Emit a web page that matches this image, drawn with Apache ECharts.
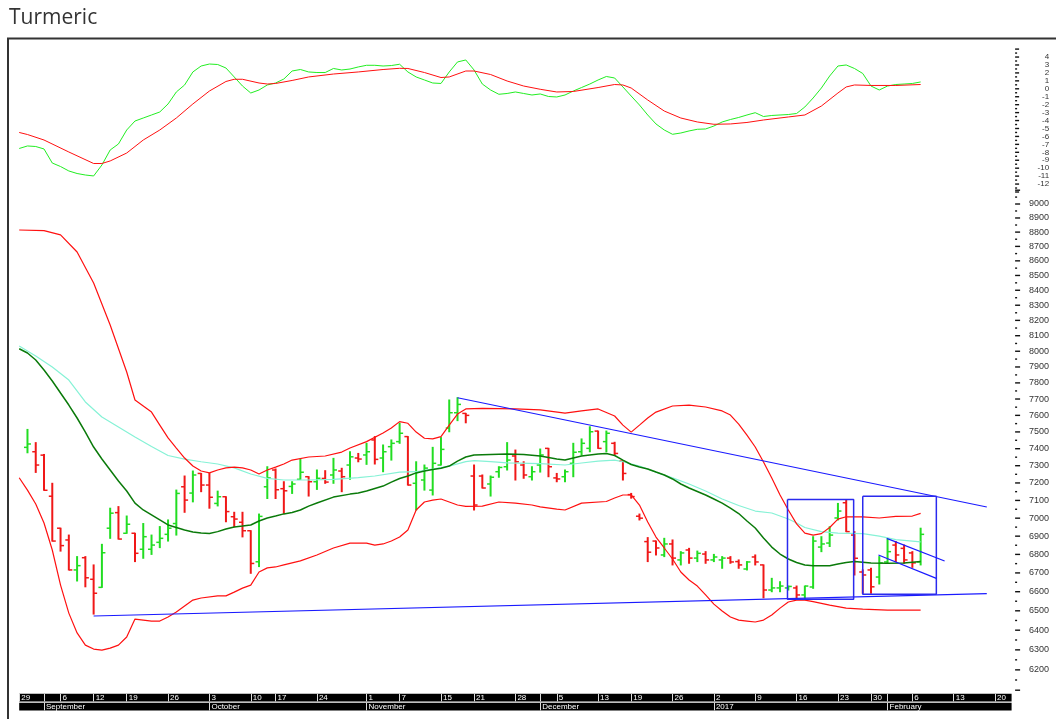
<!DOCTYPE html>
<html>
<head>
<meta charset="utf-8">
<title>Turmeric</title>
<script src="https://cdn.jsdelivr.net/npm/echarts/dist/echarts.min.js"></script>
<style>
  * { padding: 0; margin: 0; }
  body { background: #fff; }
  #chart { width: 1056px; height: 719px; }
</style>
</head>
<body>
<div id="chart"></div>
<script>
// trading days shown on the axis (Aug 2016 - Feb 2017)
const dates = [
  "08-29","08-30","08-31",
  "09-01","09-02","09-06","09-07","09-08","09-09","09-12","09-14","09-15","09-16","09-19","09-20","09-21","09-22","09-23","09-26","09-27","09-28","09-29","09-30",
  "10-03","10-04","10-05","10-06","10-07","10-10","10-13","10-14","10-17","10-18","10-19","10-20","10-21","10-24","10-25","10-26","10-27","10-28","10-31",
  "11-01","11-02","11-03","11-04","11-07","11-08","11-09","11-10","11-11","11-15","11-16","11-17","11-18","11-21","11-22","11-23","11-24","11-25","11-28","11-29","11-30",
  "12-01","12-02","12-05","12-06","12-07","12-08","12-09","12-13","12-14","12-15","12-16","12-19","12-20","12-21","12-22","12-23","12-26","12-27","12-28","12-29","12-30",
  "01-02","01-03","01-04","01-05","01-06","01-09","01-10","01-11","01-12","01-13","01-16","01-17","01-18","01-19","01-20","01-23","01-24","01-25","01-27","01-30","01-31",
  "02-01","02-02","02-03","02-06","02-07","02-08","02-09","02-10","02-13","02-14","02-15","02-16","02-17","02-20","02-21","02-22"
];
const weekStarts = [0, 5, 9, 13, 18, 23, 28, 31, 36, 42, 46, 51, 55, 60, 65, 70, 74, 79, 84, 89, 94, 99, 103, 108, 113, 118];
const monthStarts = [3, 23, 42, 63, 84, 105];
const monthNames = ["September", "October", "November", "December", "2017", "February"];

// daily OHLC (first day not drawn)
const open = [null,
  7408,7382,7362,7124,6944,6879,6716,6782,6666,6623, 6944,7031,6916,6916,6828,6828,6866,6910,6970,7178,
  7142,7255,7188,7083,7121,7008,6977,6930,6760,7178, 7275,7167,7180,7221,7236,7207,7226,7246,7269,7304,
  7345,7363,7452,7345,7412,7442,7472,7198,7217,7159, 7304,7523,7616,7612,7240,7240,7194,7265,7294,7357,
  7304,7236,7304,7402,7229,7236,7314,7382,7402,7505, 7442,7432,7327,7133,7011,6870,6873,6797,6857,6770,
  6824,6780,6802,6770,6770,6780,6761,6721,6786,6743, 6609,6620,6620,6620,6583,6625,6840,6862,7001,7087,
  6906,6705,6716,6678,6759,6851,6833,6808,6759];
const high = [null,
  7515,7436,7366,7198,6944,6906,6788,6788,6743,6855, 7056,7065,7012,6916,6970,6906,6953,6990,7159,7240,
  7269,7255,7255,7153,7121,7033,7033,6930,7023,7294, 7281,7207,7207,7337,7236,7275,7271,7343,7285,7382,
  7372,7432,7472,7422,7452,7552,7472,7323,7304,7408, 7466,7694,7708,7612,7304,7246,7240,7294,7436,7392,
  7323,7294,7398,7402,7255,7275,7432,7458,7531,7505, 7505,7438,7327,7140,7023,6892,6873,6888,6879,6815,
  6833,6818,6815,6800,6788,6788,6770,6761,6797,6743, 6671,6653,6630,6630,6630,6897,6897,6952,7083,7102,
  6925,6716,6725,6788,6884,6870,6851,6815,6944];
const low = [null,
  7376,7261,7158,6873,6818,6716,6657,6626,6483,6623, 6888,6884,6916,6761,6779,6800,6837,6873,6906,7033,
  7092,7150,7056,7069,6980,6952,6896,6698,6734,7111, 7111,7027,7140,7221,7125,7163,7198,7198,7150,7221,
  7323,7308,7310,7265,7333,7432,7188,7046,7159,7131, 7304,7501,7568,7555,7046,7171,7125,7233,7275,7217,
  7227,7217,7263,7236,7207,7207,7236,7363,7382,7402, 7382,7366,7217,7113,6990,6761,6797,6788,6743,6743,
  6752,6761,6752,6761,6725,6752,6725,6716,6743,6568, 6600,6600,6609,6565,6565,6618,6815,6843,6990,6925,
  6689,6592,6592,6641,6752,6761,6752,6730,6743];
const close = [null,
  7428,7304,7158,6873,6848,6716,6739,6674,6592,6809, 7028,6884,6966,6806,6897,6851,6888,6944,7140,7102,
  7246,7188,7118,7121,7037,6995,6930,6751,7010,7229, 7161,7155,7194,7262,7207,7227,7205,7275,7236,7352,
  7339,7382,7337,7382,7432,7492,7188,7265,7286,7314, 7396,7616,7667,7600,7074,7171,7233,7290,7333,7323,
  7246,7265,7363,7294,7223,7265,7379,7432,7501,7402, 7492,7372,7255,7122,7000,6812,6835,6857,6780,6808,
  6780,6806,6770,6786,6780,6759,6743,6759,6759,6609, 6620,6630,6628,6583,6630,6873,6857,6906,7040,6925,
  6779,6689,6626,6754,6815,6797,6770,6754,6910];

// bollinger bands and averages, [day index, price]
const upperBand = [[0,8815],[3,8810],[5,8780],[7,8661],[9,8449],[11,8170],[13,7868],[14,7694],[15,7657],[16,7620],
  [17,7541],[18,7464],[19,7404],[20,7345],[21,7298],[22,7269],[23,7258],[24,7275],[25,7287],[26,7292],[27,7287],
  [28,7275],[29,7252],[30,7275],[31,7292],[32,7310],[33,7333],[35,7351],[37,7357],[39,7380],[40,7404],[42,7442],
  [44,7493],[45,7523],[46,7562],[47,7552],[48,7499],[49,7462],[50,7458],[51,7472],[52,7541],[53,7608],[54,7639],
  [56,7643],[60,7639],[63,7633],[66,7614],[68,7627],[70,7639],[72,7596],[73,7541],[74,7499],[75,7541],[76,7584],
  [77,7620],[79,7657],[81,7663],[83,7651],[85,7627],[86,7602],[87,7547],[88,7481],[89,7410],[90,7322],[91,7229],
  [92,7131],[93,7046],[94,6968],[95,6917],[96,6906],[97,6914],[98,6948],[99,6995],[100,7008],[102,7007],[104,7001],
  [106,7010],[108,7012],[109,7027]];
const lowerBand = [[0,7230],[1,7159],[2,7080],[3,6973],[4,6824],[5,6635],[6,6488],[7,6386],[8,6324],[9,6304],
  [10,6299],[11,6309],[12,6324],[13,6365],[14,6457],[15,6452],[16,6447],[17,6447],[18,6468],[19,6494],[20,6525],
  [21,6556],[22,6567],[24,6578],[25,6578],[26,6598],[27,6619],[28,6635],[29,6705],[30,6727],[31,6732],[32,6743],
  [34,6765],[36,6797],[38,6835],[40,6862],[42,6862],[43,6851],[44,6857],[45,6873],[46,6895],[47,6934],[48,7046],
  [49,7091],[50,7102],[51,7108],[52,7091],[53,7074],[54,7066],[56,7068],[58,7091],[60,7085],[62,7074],[63,7064],
  [65,7051],[66,7046],[68,7085],[71,7094],[72,7114],[73,7131],[74,7131],[75,7074],[76,6979],[77,6895],[78,6835],
  [79,6775],[80,6705],[81,6662],[82,6630],[83,6583],[84,6535],[85,6499],[86,6468],[87,6452],[88,6447],[89,6442],
  [90,6452],[91,6478],[92,6514],[93,6546],[94,6556],[95,6556],[96,6548],[98,6530],[100,6514],[102,6509],[105,6504],
  [109,6504]];
const midAvg = [[0,8016],[1,7989],[2,7944],[3,7881],[4,7812],[5,7737],[6,7663],[7,7584],[8,7499],[9,7410],[10,7339],
  [11,7275],[12,7211],[13,7154],[14,7085],[15,7046],[16,7018],[17,6990],[18,6962],[19,6948],[20,6934],[21,6923],
  [22,6917],[23,6915],[24,6925],[25,6940],[26,6951],[27,6956],[28,6962],[29,6984],[30,7001],[31,7012],[32,7024],
  [33,7032],[34,7046],[35,7068],[36,7085],[38,7119],[40,7136],[41,7142],[42,7154],[43,7168],[44,7182],[45,7205],
  [46,7226],[47,7240],[48,7258],[49,7269],[50,7278],[51,7285],[52,7298],[53,7327],[54,7351],[55,7363],[57,7366],
  [59,7368],[61,7366],[63,7357],[64,7348],[65,7339],[66,7333],[67,7345],[68,7357],[70,7368],[71,7372],[72,7360],
  [73,7333],[74,7307],[75,7292],[76,7281],[77,7263],[78,7246],[79,7223],[80,7194],[81,7171],[82,7151],[83,7131],
  [84,7108],[85,7085],[86,7057],[87,7026],[88,6984],[89,6945],[90,6890],[91,6840],[92,6802],[93,6775],[94,6756],
  [95,6743],[96,6738],[98,6738],[99,6748],[100,6756],[101,6761],[103,6754],[105,6752],[107,6754],[109,6761]];
const longAvg = [[0,8034],[2,7970],[4,7900],[6,7818],[8,7682],[10,7590],[12,7529],[14,7469],[16,7413],[18,7360],
  [20,7339],[22,7323],[24,7310],[26,7287],[28,7252],[30,7226],[32,7217],[35,7217],[38,7221],[41,7231],[43,7240],
  [46,7263],[48,7265],[50,7281],[52,7298],[54,7324],[55,7330],[57,7324],[59,7317],[63,7312],[66,7304],[68,7316],
  [70,7327],[72,7333],[73,7323],[75,7298],[77,7263],[79,7229],[81,7194],[83,7154],[85,7108],[87,7071],[89,7040],
  [91,7029],[93,6995],[94,6973],[95,6948],[97,6925],[99,6917],[102,6914],[104,6900],[106,6881],[109,6868]];

// oscillator panel, [day index, value]
const oscFast = [[0,-7.52],[1,-7.2],[2,-7.27],[3,-7.58],[4,-9.35],[5,-9.79],[6,-10.35],[7,-10.67],[8,-10.86],[9,-10.98],
  [10,-9.6],[11,-7.71],[12,-6.95],[13,-5.19],[14,-4.06],[15,-3.68],[16,-3.3],[17,-2.92],[18,-1.91],[19,-0.4],[20,0.48],
  [21,2.12],[22,2.87],[23,3.12],[24,3.06],[25,2.62],[26,1.49],[27,0.35],[28,-0.53],[29,-0.15],[30,0.48],[31,0.73],
  [32,1.23],[33,2.24],[34,2.43],[35,2.12],[36,2.05],[37,2.05],[38,2.56],[39,2.37],[40,2.49],[41,2.75],[42,2.96],
  [43,2.96],[44,2.87],[45,2.93],[46,3.09],[47,2.12],[48,1.49],[49,1.11],[50,0.73],[51,0.67],[52,2.12],[53,3.38],
  [54,3.63],[55,2.37],[56,0.6],[57,-0.15],[58,-0.69],[59,-0.59],[60,-0.4],[61,-0.59],[62,-0.78],[63,-0.65],[64,-0.97],
  [65,-1.03],[66,-0.78],[67,-0.28],[68,0.16],[69,0.6],[70,1.11],[71,1.55],[72,1.36],[73,0.23],[74,-0.91],[75,-2.04],
  [76,-3.3],[77,-4.43],[78,-5.19],[79,-5.73],[80,-5.57],[81,-5.31],[82,-5.1],[83,-5.06],[84,-4.69],[85,-4.18],
  [86,-3.87],[87,-3.61],[88,-3.3],[89,-3.01],[90,-3.49],[91,-3.36],[92,-3.3],[93,-3.24],[94,-3.11],[95,-2.29],
  [96,-1.16],[97,0.1],[98,1.61],[99,2.87],[100,3.0],[101,2.56],[102,1.93],[103,0.35],[104,-0.15],[105,0.35],
  [106,0.54],[107,0.6],[108,0.67],[109,0.86]];
const oscSlow = [[0,-5.5],[1,-5.76],[3,-6.45],[6,-7.96],[9,-9.41],[10,-9.41],[11,-9.09],[13,-8.09],[15,-6.45],
  [17,-5.19],[19,-3.68],[21,-1.91],[23,-0.28],[25,0.92],[26,1.2],[27,1.2],[29,0.73],[30,0.6],[31,0.67],[33,1.05],
  [35,1.49],[38,1.86],[41,2.12],[44,2.43],[46,2.58],[47,2.56],[49,2.05],[51,1.42],[52,1.49],[54,2.24],[55,2.24],
  [57,1.8],[59,0.98],[61,0.35],[63,-0.06],[65,-0.4],[67,-0.34],[70,0.16],[72,0.54],[73,0.48],[74,0.1],[76,-1.41],
  [78,-2.8],[80,-3.68],[82,-4.18],[84,-4.47],[86,-4.43],[88,-4.24],[90,-3.93],[93,-3.55],[95,-3.3],[97,-2.17],
  [99,-0.53],[100,0.23],[101,0.48],[103,0.42],[106,0.42],[109,0.54]];

// drawn trend lines and boxes
const supportLine = [[9, 6473], [117, 6590]];
const resistLine = [[53, 7708], [117, 7063]];
const boxA = [92.9, 100.9, 7105, 6560];
const boxB = [102, 110.9, 7124, 6586];
const channelTop = [[104.9, 6888], [111.9, 6764]];
const channelBottom = [[103.9, 6797], [110.9, 6671]];

// axis ticks
const priceMajor = [];
for (let p = 6100; p <= 9100; p += 100) priceMajor.push(p);
const priceLabels = priceMajor.filter(p => p >= 6200 && p <= 9000);
const priceMinor = priceMajor.slice(0, -1).map(p => p + 50);
const oscMajor = [];
for (let v = -13; v <= 5; v++) oscMajor.push(v);
const oscLabels = oscMajor.filter(v => v >= -12 && v <= 4);
const oscMinor = oscMajor.slice(0, -1).map(v => v + 0.5);

const GREEN = "#22dd22";
const RED = "#f01818";
const LAST = dates.length - 1;

function boxPath(b) {
  return [[b[0], b[2]], [b[1], b[2]], [b[1], b[3]], [b[0], b[3]], [b[0], b[2]]];
}

const ohlc = [];
dates.forEach((d, i) => {
  if (open[i] != null) ohlc.push([i, open[i], high[i], low[i], close[i]]);
});

const chart = echarts.init(document.getElementById("chart"));

const gridL = 19.2, gridW = 992.4;
const valueX = (gi) => ({ type: "value", gridIndex: gi, min: 0, max: LAST, show: false });
const hiddenY = (gi) => ({ type: "value", gridIndex: gi, min: 0, max: 1, show: false });
// right side labels (ticks are drawn by tickSeries)
const labelAxis = (gi, type, min, max, labels, size) => ({
  type: type, gridIndex: gi, min: min, max: max, position: "right",
  axisLine: { show: false }, splitLine: { show: false }, axisTick: { show: false },
  axisLabel: {
    customValues: labels, fontSize: size, color: "#333", fontFamily: "Liberation Sans",
    align: "right", margin: 37.5, showMinLabel: true, showMaxLabel: true, hideOverlap: false,
    formatter: (v) => String(v)
  }
});
// short marks just right of the plot, placed by the axis scale
const tickSeries = (yi, values, len) => ({
  type: "custom", xAxisIndex: yi, yAxisIndex: yi, silent: true, clip: false,
  data: values.map(v => [LAST, v]), encode: { x: 0, y: 1 },
  renderItem: function (params, api) {
    const p = api.coord([api.value(0), api.value(1)]);
    return {
      type: "line",
      shape: { x1: p[0] + 3.5, y1: p[1], x2: p[0] + 3.5 + len, y2: p[1] },
      style: { stroke: "#111", lineWidth: 1.4 }
    };
  }
});

const dayAxis = {
  type: "category", gridIndex: 2, data: dates, boundaryGap: false,
  axisLine: { show: false }, axisTick: { show: false },
  splitLine: {
    show: true,
    interval: (i) => weekStarts.includes(i) || monthStarts.includes(i),
    lineStyle: { color: "#ddd", width: 1 }
  },
  axisLabel: {
    inside: true, margin: 3.8, verticalAlign: "middle", align: "left", padding: [0, 0, 0, 2],
    interval: (i) => weekStarts.includes(i),
    formatter: (v) => String(parseInt(v.slice(3), 10)),
    color: "#fff", fontSize: 8, fontFamily: "Liberation Sans"
  }
};
const monthAxis = {
  type: "category", gridIndex: 3, data: dates, boundaryGap: false,
  axisLine: { show: false }, axisTick: { show: false },
  splitLine: {
    show: true,
    interval: (i) => monthStarts.includes(i),
    lineStyle: { color: "#ddd", width: 1 }
  },
  axisLabel: {
    inside: true, margin: 3.8, verticalAlign: "middle", align: "left", padding: [0, 0, 0, 2],
    interval: (i) => monthStarts.includes(i),
    formatter: (v, i) => monthNames[monthStarts.indexOf(i)] || "",
    color: "#fff", fontSize: 8, fontFamily: "Liberation Sans"
  }
};

const line = (name, data, xi, yi, color, width) => ({
  name: name, type: "line", data: data, xAxisIndex: xi, yAxisIndex: yi,
  showSymbol: false, symbol: "none", silent: true,
  lineStyle: { color: color, width: width }
});

chart.setOption({
  animation: false,
  backgroundColor: "#fff",
  title: {
    text: "Turmeric", left: 4, top: 3,
    textStyle: { fontFamily: "Open Sans", fontSize: 21, fontWeight: "normal", color: "#333" }
  },
  graphic: [{
    type: "rect", shape: { x: 8, y: 38.5, width: 1200, height: 800 },
    style: { fill: "none", stroke: "#333", lineWidth: 2 }, silent: true
  }],
  grid: [
    { left: gridL, width: gridW, top: 49.1, height: 142.9, outerBoundsMode: "none" },
    { left: gridL, width: gridW, top: 190.2, height: 500, outerBoundsMode: "none" },
    { left: gridL, width: gridW, top: 693.8, height: 7.6, show: true, backgroundColor: "#000", borderWidth: 0, outerBoundsMode: "none" },
    { left: gridL, width: gridW, top: 702.8, height: 7.6, show: true, backgroundColor: "#000", borderWidth: 0, outerBoundsMode: "none" }
  ],
  xAxis: [valueX(0), valueX(1), dayAxis, monthAxis],
  yAxis: [
    labelAxis(0, "value", -13, 5, oscLabels, 8),
    labelAxis(1, "log", 6100, 9100, priceLabels, 9),
    hiddenY(2),
    hiddenY(3)
  ],
  series: [
    tickSeries(0, oscMajor, 4),
    tickSeries(0, oscMinor, 2),
    tickSeries(1, priceMajor, 5),
    tickSeries(1, priceMinor, 2),
    line("fast", oscFast, 0, 0, "#22ee22", 1),
    line("slow", oscSlow, 0, 0, "#ff1010", 1),
    line("long avg", longAvg, 1, 1, "#86f2d6", 1.2),
    line("upper", upperBand, 1, 1, "#ff1010", 1.2),
    line("lower", lowerBand, 1, 1, "#ff1010", 1.2),
    line("mid avg", midAvg, 1, 1, "#0a7a0a", 1.5),
    line("support", supportLine, 1, 1, "#1a1aff", 1.2),
    line("resistance", resistLine, 1, 1, "#1a1aff", 1.2),
    line("box a", boxPath(boxA), 1, 1, "#2a2aee", 1.5),
    line("box b", boxPath(boxB), 1, 1, "#2a2aee", 1.5),
    line("channel top", channelTop, 1, 1, "#1a1aff", 1.2),
    line("channel bottom", channelBottom, 1, 1, "#1a1aff", 1.2),
    {
      name: "price", type: "custom", xAxisIndex: 1, yAxisIndex: 1, data: ohlc,
      encode: { x: 0, y: [1, 2, 3, 4] }, silent: true,
      renderItem: function (params, api) {
        const i = api.value(0);
        const o = api.value(1), h = api.value(2), l = api.value(3), c = api.value(4);
        const pH = api.coord([i, h]), pL = api.coord([i, l]);
        const pO = api.coord([i, o]), pC = api.coord([i, c]);
        const color = c >= o ? GREEN : RED;
        return {
          type: "group",
          children: [
            { type: "line", shape: { x1: pH[0], y1: pH[1] - 0.5, x2: pL[0], y2: pL[1] + 0.5 }, style: { stroke: color, lineWidth: 2 } },
            { type: "line", shape: { x1: pO[0] - 3.5, y1: pO[1], x2: pO[0], y2: pO[1] }, style: { stroke: color, lineWidth: 1.5 } },
            { type: "line", shape: { x1: pC[0], y1: pC[1], x2: pC[0] + 3.5, y2: pC[1] }, style: { stroke: color, lineWidth: 1.5 } }
          ]
        };
      }
    }
  ]
});
</script>
</body>
</html>
